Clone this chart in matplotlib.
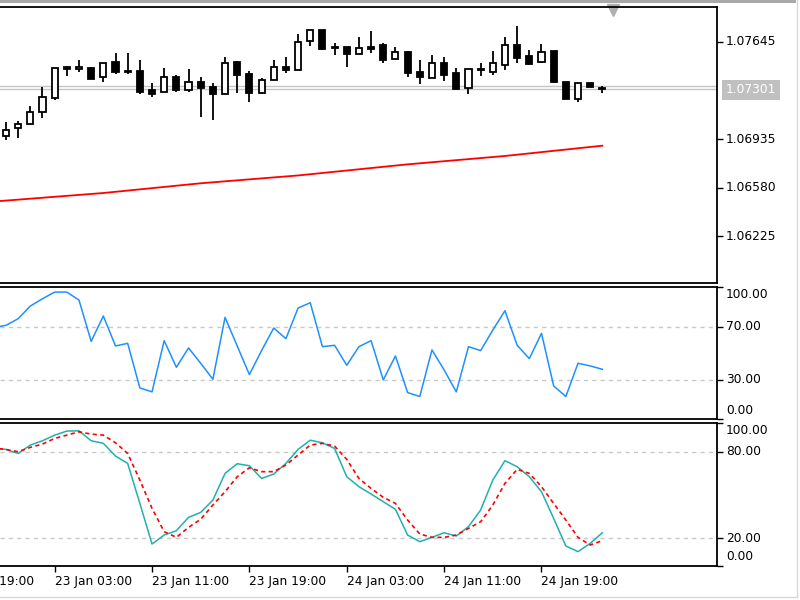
import matplotlib
matplotlib.use('Agg')
import matplotlib.pyplot as plt
from matplotlib.patches import Rectangle
from matplotlib.lines import Line2D
from matplotlib import transforms

# H1 bars, first visible bar is 22 Jan 23:00 (index 0)
opens = [1.06958, 1.07016, 1.07045, 1.07133, 1.07235, 1.07461, 1.07446, 1.07453, 1.07388, 1.07497,
         1.07431, 1.07431, 1.07293, 1.07278, 1.07388, 1.07293, 1.07351, 1.07315, 1.07264, 1.07497,
         1.07410, 1.07271, 1.07366, 1.07461, 1.07439, 1.07650, 1.07730, 1.07606, 1.07606, 1.07555,
         1.07606, 1.07621, 1.07519, 1.07570, 1.07424, 1.07380, 1.07490, 1.07417, 1.07307, 1.07446,
         1.07424, 1.07475, 1.07621, 1.07541, 1.07497, 1.07577, 1.07351, 1.07227, 1.07344, 1.07307]
highs = [1.07060, 1.07067, 1.07176, 1.07315, 1.07456, 1.07461, 1.07512, 1.07461, 1.07490, 1.07563,
         1.07563, 1.07512, 1.07344, 1.07453, 1.07402, 1.07446, 1.07388, 1.07344, 1.07533, 1.07504,
         1.07431, 1.07380, 1.07512, 1.07533, 1.07701, 1.07730, 1.07730, 1.07636, 1.07606, 1.07679,
         1.07723, 1.07636, 1.07606, 1.07577, 1.07512, 1.07548, 1.07533, 1.07453, 1.07446, 1.07490,
         1.07577, 1.07679, 1.07759, 1.07584, 1.07628, 1.07577, 1.07351, 1.07344, 1.07344, 1.07322]
lows = [1.06928, 1.06943, 1.07045, 1.07089, 1.07220, 1.07395, 1.07424, 1.07373, 1.07351, 1.07410,
        1.07410, 1.07264, 1.07242, 1.07278, 1.07278, 1.07278, 1.07096, 1.07074, 1.07264, 1.07271,
        1.07205, 1.07264, 1.07366, 1.07417, 1.07439, 1.07614, 1.07584, 1.07548, 1.07461, 1.07555,
        1.07563, 1.07490, 1.07519, 1.07388, 1.07337, 1.07380, 1.07359, 1.07300, 1.07264, 1.07395,
        1.07402, 1.07439, 1.07490, 1.07475, 1.07490, 1.07344, 1.07227, 1.07205, 1.07315, 1.07271]
closes = [1.07001, 1.07045, 1.07133, 1.07242, 1.07453, 1.07446, 1.07461, 1.07373, 1.07490, 1.07424,
          1.07424, 1.07278, 1.07264, 1.07388, 1.07293, 1.07351, 1.07307, 1.07264, 1.07490, 1.07402,
          1.07271, 1.07366, 1.07461, 1.07439, 1.07643, 1.07730, 1.07592, 1.07599, 1.07555, 1.07599,
          1.07592, 1.07512, 1.07570, 1.07417, 1.07388, 1.07490, 1.07402, 1.07300, 1.07446, 1.07439,
          1.07490, 1.07621, 1.07526, 1.07482, 1.07570, 1.07351, 1.07227, 1.07344, 1.07315, 1.07301]

# moving average read at a few bars
ma_bars = [-1, 8, 16, 24, 33, 41, 49]
ma_vals = [1.06480, 1.06542, 1.06613, 1.06670, 1.06751, 1.06812, 1.06887]

bid, ask = 1.07301, 1.07322

# indicators start one bar before the first visible candle
rsi = [69.5, 71, 76, 85.5, 91, 96, 96, 90, 59, 78, 55.5, 57.5, 24, 21, 59.5, 39.5, 54, 42.5, 30.5, 77,
       55.5, 34, 52, 69, 61, 84, 88, 55, 56, 41, 55, 59.5, 30, 48, 20.5, 17.5, 52.5, 37.5, 21, 55,
       52, 67.5, 82, 56, 46, 65, 25.5, 17.5, 42.5, 40.5, 38]
stoch_main = [82.5, 81.6, 78.8, 84.6, 87.6, 91.5, 94.3, 94.5, 87.6, 85.8, 77, 71.9, 44.2, 16.1, 22.3,
              25.3, 34.5, 38, 46.5, 65, 71.7, 70.3, 61.5, 64.5, 71.9, 81.6, 88, 86.2, 82.3, 62.7,
              55.8, 50.7, 45.4, 40.1, 22.3, 17.7, 20.7, 23.9, 21.6, 28.1, 39.6, 60.4, 73.8, 69.6,
              62.7, 52.3, 33.8, 14.7, 10.8, 16.5, 23.9]
stoch_signal = [82.5, 81.6, 80, 83, 85.3, 89.2, 91.5, 93.8, 92.2, 91.5, 86.2, 78.8, 60.4, 40.8, 24.6,
                20.7, 27.6, 33.2, 43.1, 52.3, 62.7, 68.9, 66.2, 66.2, 70.8, 77.7, 84.6, 85.8, 83.9,
                74.7, 61.5, 54.6, 48.4, 44.2, 32.7, 23, 20.7, 20.7, 22.3, 26.9, 31.5, 43.1, 58.1,
                67.8, 65, 55.8, 44.2, 32.7, 20.7, 15.4, 18.4]

price_ticks = [1.07645, 1.06935, 1.06580, 1.06225]
time_ticks = [-4, 4, 12, 20, 28, 36, 44]
time_labels = ['22 Jan 19:00', '23 Jan 03:00', '23 Jan 11:00', '23 Jan 19:00',
               '24 Jan 03:00', '24 Jan 11:00', '24 Jan 19:00']

W, H = 800, 600
FS = 8.8


def px_box(x0, y0, x1, y1):
    return [x0 / W, 1 - y1 / H, (x1 - x0) / W, (y1 - y0) / H]


fig = plt.figure(figsize=(8, 6), dpi=100)
fig.patch.set_facecolor('white')

xlim = (-0.49, 58.42)
ax_p = fig.add_axes(px_box(0, 7, 717, 283))
ax_r = fig.add_axes(px_box(0, 286.5, 717, 418.5))
ax_s = fig.add_axes(px_box(0, 423, 717, 565.5))

for ax in (ax_p, ax_r, ax_s):
    ax.set_xlim(*xlim)
    ax.set_xticks([])
    ax.spines['left'].set_visible(False)
    for s in ('top', 'right', 'bottom'):
        ax.spines[s].set_linewidth(1.3)
        ax.spines[s].set_color('black')
    ax.tick_params(axis='y', left=False, right=True, labelleft=False, labelright=False,
                   length=4, width=1, direction='out')

lbl = lambda ax, dy=0: transforms.offset_copy(ax.get_yaxis_transform(), fig=fig, x=9, y=dy, units='dots')

# price panel
ax_p.set_ylim(1.05886, 1.07898)
ax_p.set_yticks(price_ticks)
for t in price_ticks:
    ax_p.text(1, t, f'{t:.5f}', transform=lbl(ax_p), va='center', ha='left', fontsize=FS)

ax_p.axhline(ask, color='#c4c4c4', lw=1, zorder=1)
ax_p.axhline(bid, color='#c4c4c4', lw=1, zorder=1)
ax_p.plot(ma_bars, ma_vals, color='#ff0000', lw=1.3, zorder=2)

bars = range(len(opens))
ax_p.vlines(bars, lows, highs, color='black', lw=1.3, zorder=3)
for i in bars:
    o, c = opens[i], closes[i]
    ax_p.bar(i, max(abs(c - o), 0.000005), bottom=min(o, c), width=0.5,
             facecolor='white' if c >= o else 'black', edgecolor='black', lw=1.3, zorder=4)

ax_p.plot([0.855], [0.988], marker='v', color='#b0b0b0', ms=8, transform=ax_p.transAxes, clip_on=False)

# current price label
ax_p.text(1, bid, f'{bid:.5f}', transform=lbl(ax_p, -1), va='center', ha='left', fontsize=FS,
          color='white', zorder=10,
          bbox=dict(boxstyle='square,pad=0.3', facecolor='#c0c0c0', edgecolor='none'))

# RSI panel
ax_r.set_ylim(1, 100.2)
ax_r.set_yticks([100, 70, 30, 1])
for lvl in (70, 30):
    ax_r.axhline(lvl, color='#c8c8c8', lw=1, dashes=(3, 3))
ax_r.plot(range(-1, len(rsi) - 1), rsi, color='#1e90ff', lw=1.1)
ax_r.text(1, 100.2, '100.00', transform=lbl(ax_r, -1), va='top', ha='left', fontsize=FS)
ax_r.text(1, 70, '70.00', transform=lbl(ax_r), va='center', ha='left', fontsize=FS)
ax_r.text(1, 30, '30.00', transform=lbl(ax_r), va='center', ha='left', fontsize=FS)
ax_r.text(1, 1, '0.00', transform=lbl(ax_r, 2), va='bottom', ha='left', fontsize=FS)

# Stochastic panel
ax_s.set_ylim(1.2, 99.9)
ax_s.set_yticks([99.9, 80, 20, 1.2])
for lvl in (80, 20):
    ax_s.axhline(lvl, color='#c8c8c8', lw=1, dashes=(3, 3))
ax_s.plot(range(-1, len(stoch_main) - 1), stoch_main, color='#20b2aa', lw=1.1)
ax_s.plot(range(-1, len(stoch_signal) - 1), stoch_signal, color='#ff0000', lw=1.2, dashes=(2.5, 2))
ax_s.text(1, 99.9, '100.00', transform=lbl(ax_s, -1), va='top', ha='left', fontsize=FS)
ax_s.text(1, 80, '80.00', transform=lbl(ax_s), va='center', ha='left', fontsize=FS)
ax_s.text(1, 20, '20.00', transform=lbl(ax_s), va='center', ha='left', fontsize=FS)
ax_s.text(1, 1.2, '0.00', transform=lbl(ax_s, 2), va='bottom', ha='left', fontsize=FS)

# time axis (first label is cut by the left edge, as in the terminal)
ax_s.set_xticks(time_ticks[1:])
ax_s.tick_params(axis='x', bottom=True, labelbottom=False, length=4.5, width=1, direction='out')
tx = transforms.blended_transform_factory(ax_s.transData, fig.transFigure)
for t, lab in zip(time_ticks, time_labels):
    ax_s.text(t, 1 - 581 / H, lab, transform=tx, ha='left', va='center', fontsize=FS, clip_on=False)

# window frame bits
fig.add_artist(Rectangle((0, 1 - 3 / H), 796 / W, 3 / H, transform=fig.transFigure,
                         facecolor='#a8a8a8', edgecolor='none'))
fig.add_artist(Line2D([797 / W, 797 / W], [1 - 597 / H, 1], transform=fig.transFigure, color='#d8d8d8', lw=1))
fig.add_artist(Line2D([0, 797 / W], [1 - 597 / H, 1 - 597 / H], transform=fig.transFigure, color='#d8d8d8', lw=1))

fig.savefig('out.png', dpi=100)
